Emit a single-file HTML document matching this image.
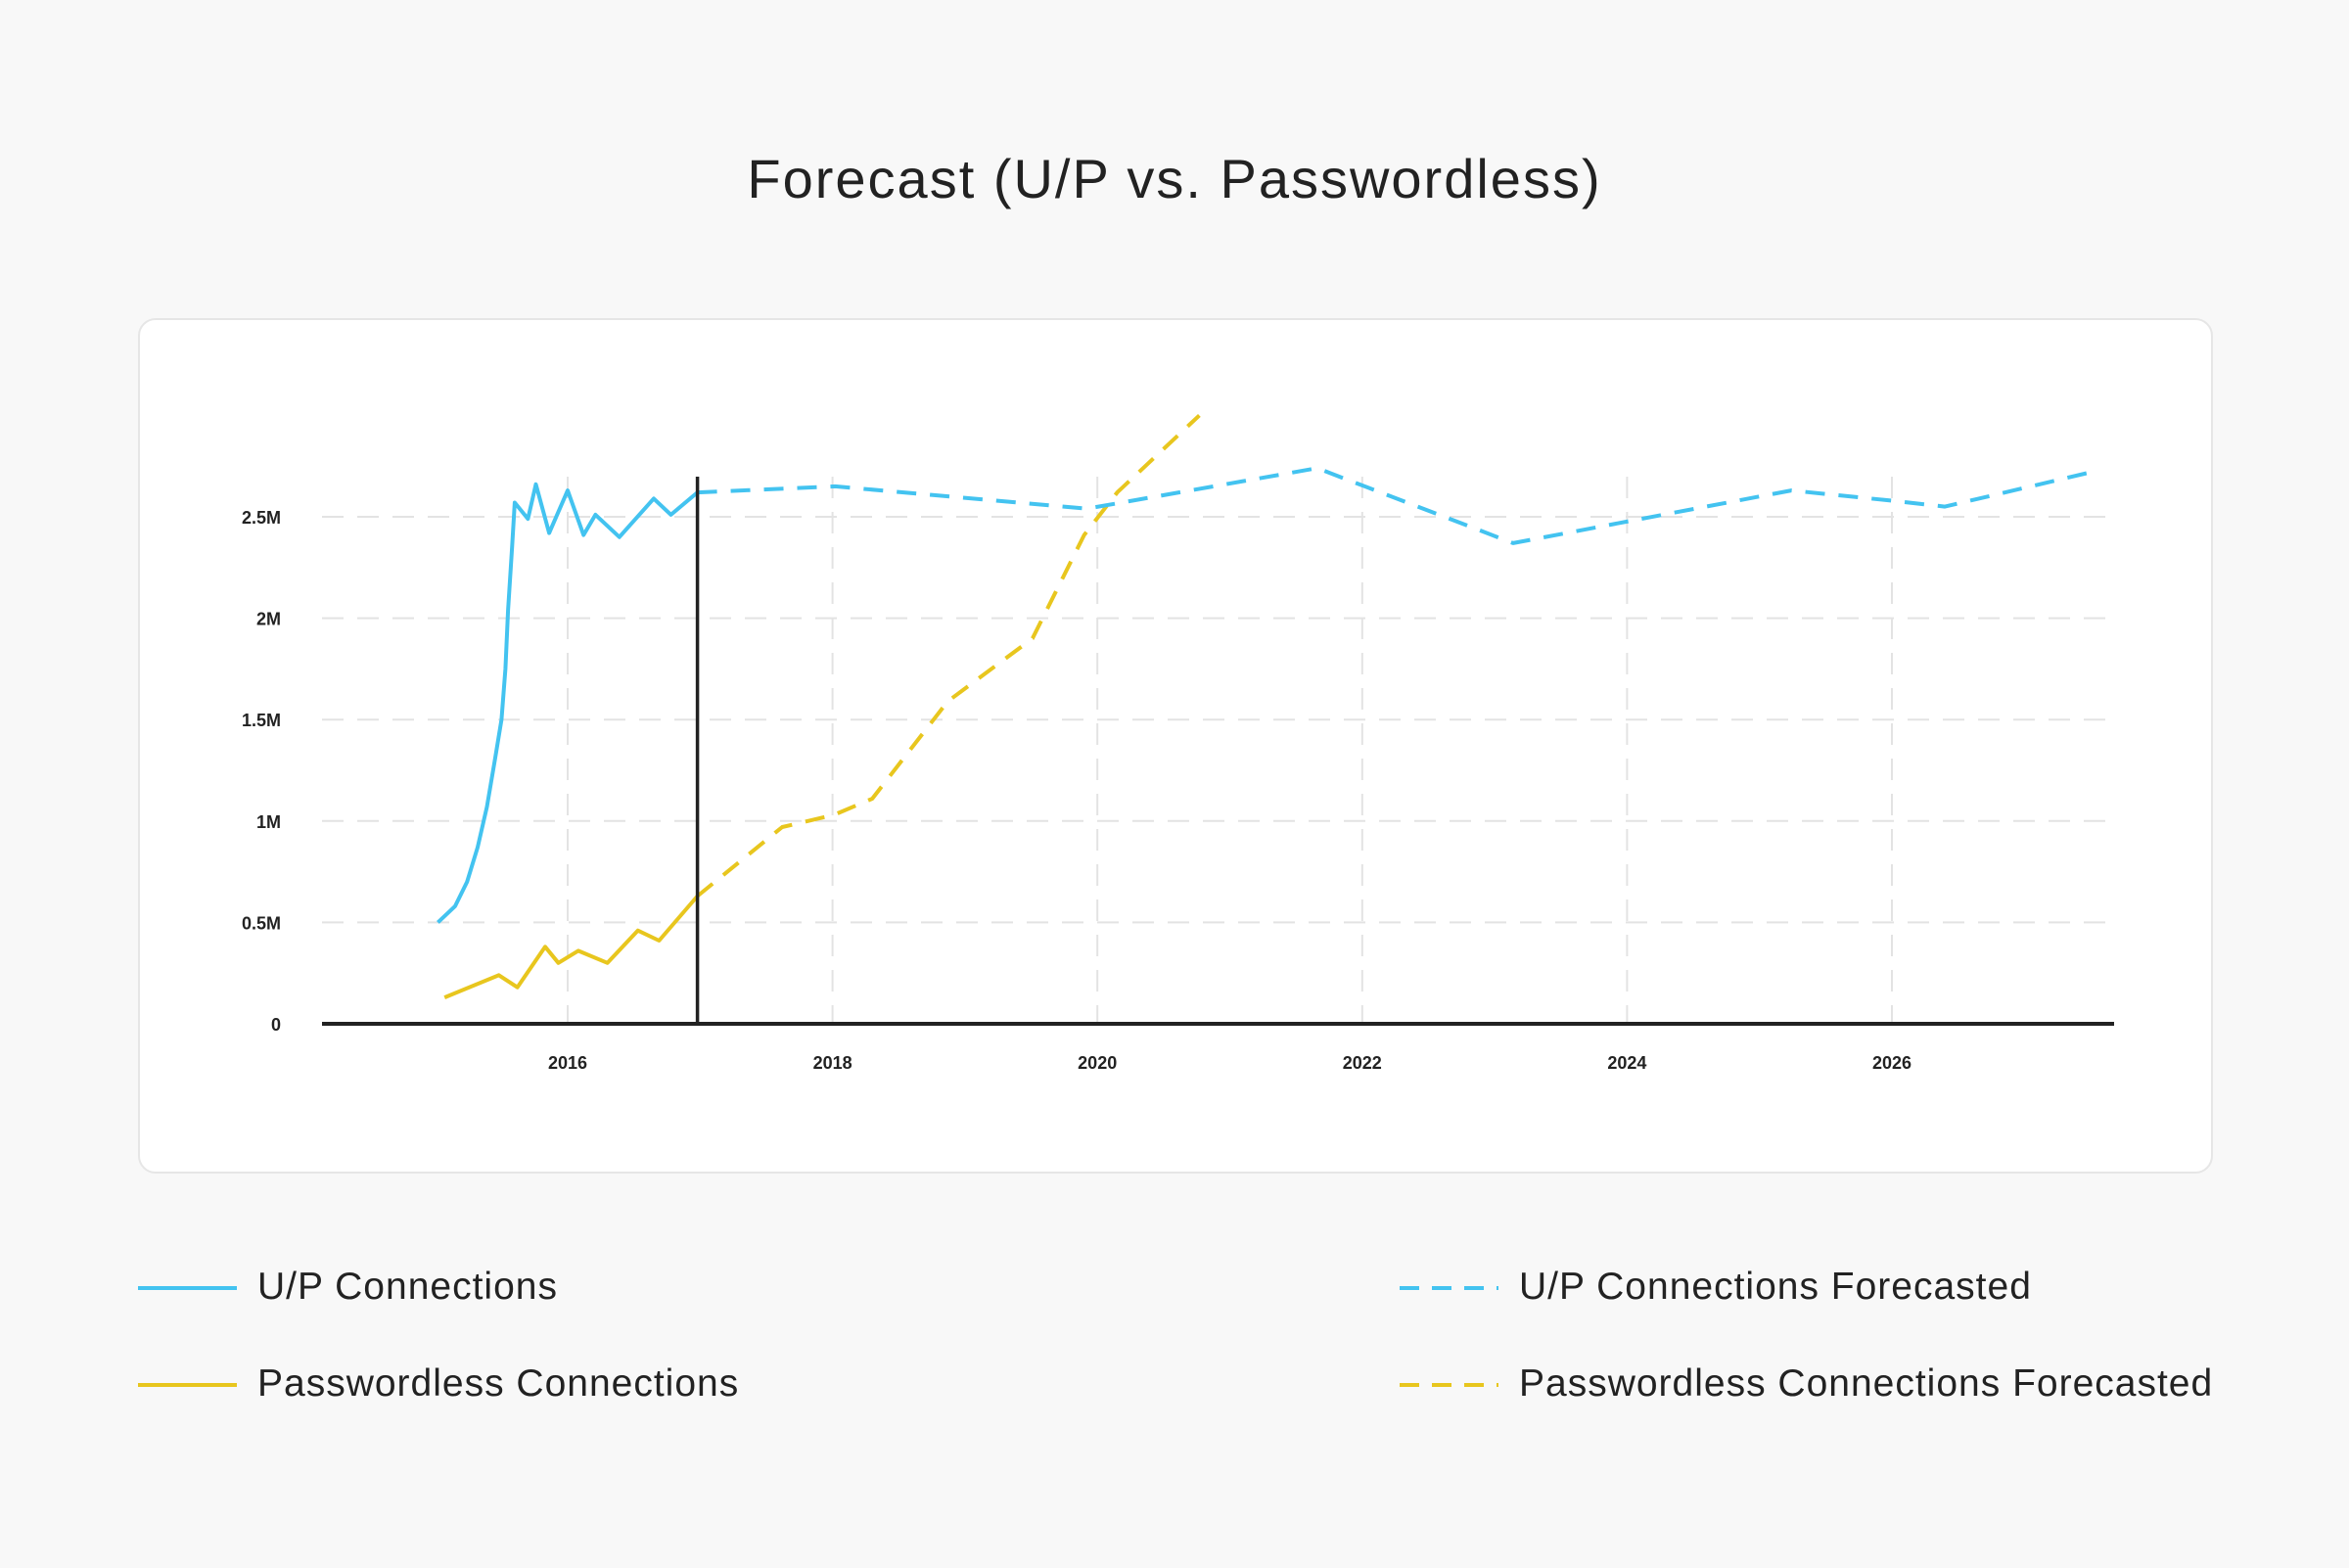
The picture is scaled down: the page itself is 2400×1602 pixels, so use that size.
<!DOCTYPE html>
<html><head><meta charset="utf-8"><style>
html,body{margin:0;padding:0;background:#f8f8f8;}
body{width:2400px;height:1602px;position:relative;overflow:hidden;font-family:"Liberation Sans",sans-serif;color:#222;}
#title{position:absolute;top:150px;left:0;width:2400px;text-align:center;font-size:56px;font-weight:normal;letter-spacing:2px;}
#card{position:absolute;left:141px;top:325px;width:2116px;height:870px;background:#fff;border:2px solid #e6e6e6;border-radius:18px;}
svg{position:absolute;left:0;top:0;}
.leg{position:absolute;font-size:39px;letter-spacing:1px;}
</style></head><body>
<div id="title">Forecast (U/P vs. Passwordless)</div>
<div id="card"></div>
<svg id="chart" width="2400" height="1602">
  <line x1="141" x2="242" y1="1316" y2="1316" stroke="#43c3f0" stroke-width="4"/>
  <line x1="141" x2="242" y1="1415" y2="1415" stroke="#e8c61e" stroke-width="4"/>
  <line x1="1430" x2="1531" y1="1316" y2="1316" stroke="#43c3f0" stroke-width="4" stroke-dasharray="20 13"/>
  <line x1="1430" x2="1531" y1="1415" y2="1415" stroke="#e8c61e" stroke-width="4" stroke-dasharray="20 13"/>
</svg>

<div class="leg" style="left:263px;top:1293px">U/P Connections</div>
<div class="leg" style="left:263px;top:1392px">Passwordless Connections</div>
<div class="leg" style="left:1552px;top:1293px">U/P Connections Forecasted</div>
<div class="leg" style="left:1552px;top:1392px">Passwordless Connections Forecasted</div>

<script>
const yTicks = [0, 0.5, 1, 1.5, 2, 2.5];
const yTickLabels = ["0", "0.5M", "1M", "1.5M", "2M", "2.5M"];
const xTicks = [2016, 2018, 2020, 2022, 2024, 2026];
const upYears = [2015.02,2015.15,2015.24,2015.32,2015.39,2015.45,2015.50,2015.53,2015.55,2015.58,2015.60,2015.70,2015.76,2015.86,2016.0,2016.12,2016.21,2016.39,2016.65,2016.78,2016.98];
const upValues = [0.50,0.58,0.70,0.87,1.07,1.30,1.50,1.75,2.04,2.35,2.57,2.49,2.66,2.42,2.63,2.41,2.51,2.40,2.59,2.51,2.62];
const pwlYears = [2015.07,2015.48,2015.62,2015.83,2015.93,2016.08,2016.30,2016.53,2016.69,2016.98];
const pwlValues = [0.13,0.24,0.18,0.38,0.30,0.36,0.30,0.46,0.41,0.63];
const upFcYears = [2016.98,2018.02,2019.92,2021.66,2023.14,2025.24,2025.99,2026.40,2027.57];
const upFcValues = [2.62,2.65,2.54,2.74,2.37,2.63,2.58,2.55,2.73];
const pwlFcYears = [2016.98,2017.62,2018.01,2018.30,2018.87,2019.51,2019.90,2020.15,2020.77];
const pwlFcValues = [0.63,0.97,1.03,1.11,1.59,1.90,2.41,2.62,3.00];
const forecastStart = 2016.98;

const svg = document.getElementById('chart');
const NS = 'http://www.w3.org/2000/svg';
const X0 = 329, X1 = 2160, Y0 = 1046, YTOP = 487;
function xs(yr){ return 580 + (yr - 2016) * 135.3; }
function ys(v){ return Y0 - v * 207.2; }
function mk(tag, attrs){ const e = document.createElementNS(NS, tag); for (const k in attrs) e.setAttribute(k, attrs[k]); svg.appendChild(e); return e; }

yTicks.forEach((t, i) => {
  if (t > 0) {
    const g = mk('line', {x1:X0, x2:X1, y1:ys(t), y2:ys(t), stroke:'#e3e3e3', 'stroke-width':2, 'stroke-dasharray':'22 14'});
    
    
  }
  const l = mk('text', {x:287, y:ys(t)+7, 'text-anchor':'end', 'font-size':18, 'font-weight':'bold', fill:'#222', 'font-family':'Liberation Sans, sans-serif'});
  l.textContent = yTickLabels[i];
  
  
});
xTicks.forEach(t => {
  const g = mk('line', {x1:xs(t), x2:xs(t), y1:YTOP, y2:Y0, stroke:'#e3e3e3', 'stroke-width':2, 'stroke-dasharray':'22 14'});
  
  
  const l = mk('text', {x:xs(t), y:1092, 'text-anchor':'middle', 'font-size':18, 'font-weight':'bold', fill:'#222', 'font-family':'Liberation Sans, sans-serif'});
  l.textContent = t;
  
  
});
function pts(xa, va){ return xa.map((x,i)=>xs(x).toFixed(1)+','+ys(va[i]).toFixed(1)).join(' '); }
function series(xa, va, color, dash, name){
  const p = mk('polyline', {points:pts(xa,va), fill:'none', stroke:color, 'stroke-width':4, 'stroke-linejoin':'round', 'stroke-linecap':'butt'});
  if (dash) p.setAttribute('stroke-dasharray', dash);
  
  
}
series(pwlFcYears, pwlFcValues, '#e8c61e', '20 14', 'passwordless-forecast-line');
series(upFcYears, upFcValues, '#43c3f0', '20 14', 'up-forecast-line');
series(pwlYears, pwlValues, '#e8c61e', null, 'passwordless-line');
series(upYears, upValues, '#43c3f0', null, 'up-line');
const v = mk('line', {x1:xs(forecastStart), x2:xs(forecastStart), y1:YTOP, y2:Y0, stroke:'#222', 'stroke-width':3.5});


const ax = mk('line', {x1:X0, x2:X1, y1:Y0, y2:Y0, stroke:'#222', 'stroke-width':4});


</script>
</body></html>
